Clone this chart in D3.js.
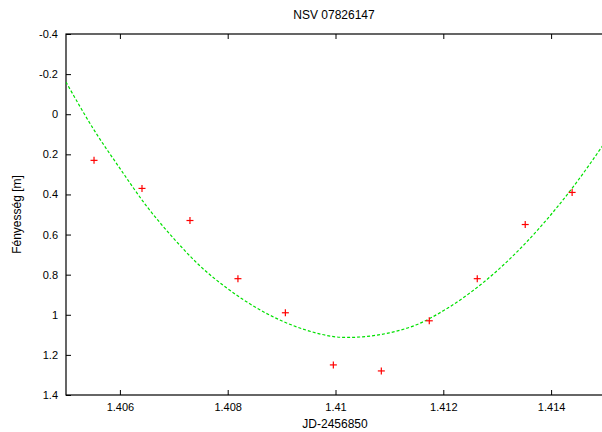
<!DOCTYPE html>
<html>
<head>
<meta charset="utf-8">
<script src="https://cdn.jsdelivr.net/npm/d3@7"></script>
<style>
  html, body { margin: 0; padding: 0; background: #fff; }
  svg { display: block; }
  text { font-family: "Liberation Sans", Arial, sans-serif; }
</style>
</head>
<body>
<script>
// Observations (JD-2456850, magnitude)
const obsJD  = [1.40552, 1.40641, 1.40730, 1.40819, 1.40907, 1.40996, 1.41085, 1.41174, 1.41263, 1.41352, 1.41439];
const obsMag = [0.23, 0.37, 0.53, 0.82, 0.99, 1.25, 1.28, 1.03, 0.82, 0.55, 0.39];

// Fitted curve
const fitJD  = [1.4050, 1.4055, 1.4060, 1.4065, 1.4070, 1.4075, 1.4080, 1.4085, 1.4090, 1.4095, 1.4100,
                1.4105, 1.4110, 1.4115, 1.4120, 1.4125, 1.4130, 1.4135, 1.4140, 1.4145, 1.4150];
const fitMag = [-0.16, 0.07, 0.27, 0.46, 0.62, 0.76, 0.87, 0.96, 1.03, 1.08, 1.11,
                1.11, 1.09, 1.05, 0.98, 0.89, 0.78, 0.65, 0.50, 0.33, 0.14];

const xTicks = [1.406, 1.408, 1.41, 1.412, 1.414];
const yTicks = [-0.4, -0.2, 0, 0.2, 0.4, 0.6, 0.8, 1, 1.2, 1.4];

const titleText = "NSV 07826147";
const xLabel = "JD-2456850";
const yLabel = "Fényesség [m]";

const W = 602, H = 432;
const L = 66, R = 605, T = 34, B = 395;

const svg = d3.select("body").append("svg").attr("width", W).attr("height", H);

const x = d3.scaleLinear().domain([1.405, 1.415]).range([L, R]);
const y = d3.scaleLinear().domain([-0.4, 1.4]).range([T, B]);

const fmtY = d => String(+(+d).toFixed(1));
const fmtX = d => String(+(+d).toFixed(3));

// Left axis (ticks inward)
const gy = svg.append("g").attr("transform", `translate(${L},0)`)
  .call(d3.axisLeft(y).tickValues(yTicks).tickFormat(fmtY).tickSize(-5).tickPadding(8));
gy.select(".domain").remove();

// Bottom axis (ticks inward)
const gx = svg.append("g").attr("transform", `translate(0,${B})`)
  .call(d3.axisBottom(x).tickValues(xTicks).tickFormat(fmtX).tickSize(-5).tickPadding(8));
gx.select(".domain").remove();

// Top mirror ticks
const gt = svg.append("g").attr("transform", `translate(0,${T})`)
  .call(d3.axisTop(x).tickValues(xTicks).tickFormat("").tickSize(-5));
gt.select(".domain").remove();

svg.selectAll(".tick line").attr("stroke", "#000").attr("stroke-width", 1);
svg.selectAll(".tick text").attr("fill", "#000").style("font-size", "11px")
  .style("font-family", "'Liberation Sans', Arial, sans-serif");

// Frame
svg.append("rect").attr("x", L).attr("y", T).attr("width", R - L).attr("height", B - T)
  .attr("fill", "none").attr("stroke", "#000").attr("stroke-width", 1.2);

// Clip
svg.append("clipPath").attr("id", "clip").append("rect")
  .attr("x", L).attr("y", T).attr("width", R - L).attr("height", B - T);

// Fit curve
const line = d3.line().x((d, i) => x(fitJD[i])).y(d => y(d)).curve(d3.curveCatmullRom);
svg.append("path").attr("clip-path", "url(#clip)")
  .attr("d", line(fitMag))
  .attr("fill", "none").attr("stroke", "#00e000").attr("stroke-width", 1.2)
  .attr("stroke-dasharray", "3,2");

// Points
const s = 3.5;
const pts = svg.append("g").selectAll("g").data(obsMag).join("g")
  .attr("transform", (d, i) => `translate(${x(obsJD[i])},${y(d)})`);
pts.append("line").attr("x1", -s).attr("x2", s).attr("y1", 0).attr("y2", 0)
  .attr("stroke", "#ff0000").attr("stroke-width", 1.2);
pts.append("line").attr("x1", 0).attr("x2", 0).attr("y1", -s).attr("y2", s)
  .attr("stroke", "#ff0000").attr("stroke-width", 1.2);

// Title and labels
svg.append("text").attr("x", 334).attr("y", 19).attr("text-anchor", "middle")
  .style("font-size", "12px").text(titleText);
svg.append("text").attr("x", 335).attr("y", 432 - 4).attr("text-anchor", "middle")
  .style("font-size", "12px").text(xLabel);
svg.append("text").attr("transform", `translate(21,${(T + B) / 2}) rotate(-90)`)
  .attr("text-anchor", "middle").style("font-size", "12px").text(yLabel);
</script>
</body>
</html>
